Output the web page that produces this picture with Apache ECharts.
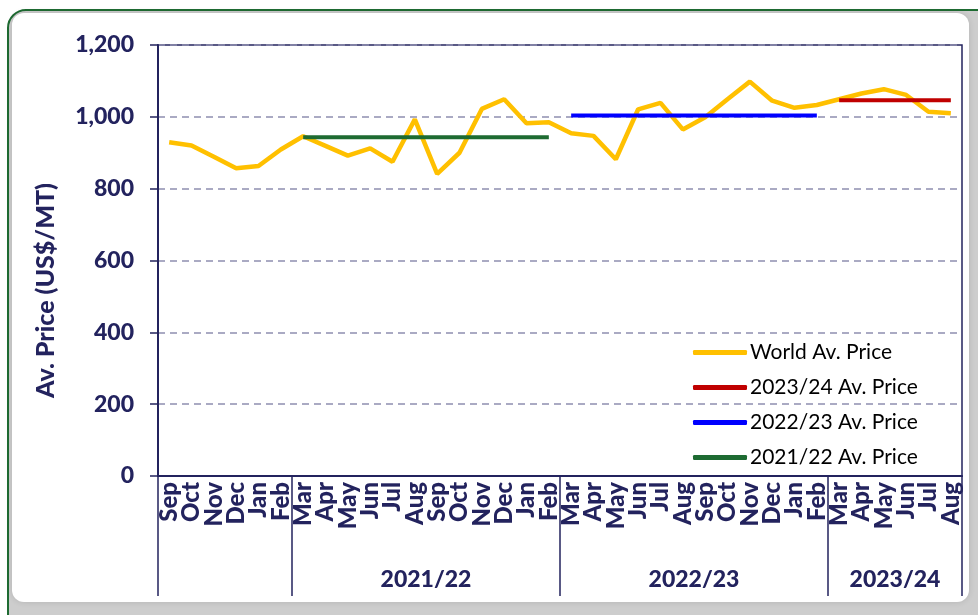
<!DOCTYPE html>
<html>
<head>
<meta charset="utf-8">
<script src="https://cdn.jsdelivr.net/npm/echarts@6/dist/echarts.min.js"></script>
<style>
  html, body { margin: 0; padding: 0; background: #fff; }
  #chart { width: 978px; height: 615px; }
</style>
</head>
<body>
<div id="chart"></div>
<script>
// months Sep 2020 .. Aug 2024
const months = [
  'Sep', 'Oct', 'Nov', 'Dec', 'Jan', 'Feb',
  'Mar', 'Apr', 'May', 'Jun', 'Jul', 'Aug', 'Sep', 'Oct', 'Nov', 'Dec', 'Jan', 'Feb',
  'Mar', 'Apr', 'May', 'Jun', 'Jul', 'Aug', 'Sep', 'Oct', 'Nov', 'Dec', 'Jan', 'Feb',
  'Mar', 'Apr', 'May', 'Jun', 'Jul', 'Aug'
];
const worldPrice = [
  929, 920, 889, 857, 863, 909,
  946, 919, 892, 912, 875, 993, 841, 900, 1022, 1049, 982, 985,
  954, 947, 882, 1021, 1039, 965, 999, 1049, 1098, 1045, 1025, 1033,
  1049, 1065, 1077, 1061, 1014, 1010
];
const seasonNames = ['2021/22', '2022/23', '2023/24'];
const seasonStart = [6, 18, 30];
const seasonEnd = [17, 29, 35];
const seasonAvg = [943, 1004, 1046];
const seasonColors = ['#1e6b32', '#0000ff', '#c00000'];
const yTicks = [0, 200, 400, 600, 800, 1000, 1200];

const navy = '#23235e';
const font = 'Lato';

function avgData(i) {
  return months.map((m, k) => (k >= seasonStart[i] && k <= seasonEnd[i]) ? seasonAvg[i] : null);
}

// group separators and label positions on a 0..36 value scale
const groupEdges = [0, seasonStart[0], seasonStart[1], seasonStart[2], months.length];
const groupCenters = seasonNames.map((n, i) => (seasonStart[i] + seasonEnd[i] + 1) / 2);

const chart = echarts.init(document.getElementById('chart'));

const avgSeries = [2, 1, 0].map(i => ({
  name: seasonNames[i] + ' Av. Price',
  type: 'line',
  data: avgData(i),
  symbol: 'none',
  lineStyle: { color: seasonColors[i], width: 4 },
  itemStyle: { color: seasonColors[i] },
  z: 3
}));

chart.setOption({
  animation: false,
  graphic: [
    {
      type: 'rect', z: -10, silent: true,
      shape: { x: 8, y: 10, width: 1000, height: 640, r: 18 },
      style: { fill: '#cdcdcd', stroke: '#1e6b32', lineWidth: 2 }
    },
    {
      type: 'rect', z: -9, silent: true,
      shape: { x: 12, y: 13, width: 957, height: 589, r: 12 },
      style: { fill: '#ffffff', shadowColor: 'rgba(0,0,0,0.12)', shadowBlur: 6 }
    }
  ],
  grid: {
    left: 158, top: 45, right: 16, bottom: 139,
    show: true, borderColor: navy, borderWidth: 1.5, backgroundColor: '#fff'
  },
  legend: {
    orient: 'vertical',
    left: 688, top: 337,
    icon: 'roundRect',
    itemWidth: 54, itemHeight: 5, itemGap: 14,
    textStyle: { color: '#000', fontFamily: font, fontSize: 21, padding: [0, 0, 0, -2] },
    data: ['World Av. Price', '2023/24 Av. Price', '2022/23 Av. Price', '2021/22 Av. Price']
  },
  xAxis: [
    {
      type: 'category',
      data: months,
      boundaryGap: true,
      axisLine: { lineStyle: { color: navy, width: 2 } },
      axisTick: { show: false },
      axisLabel: {
        rotate: 90, interval: 0, margin: 6,
        color: navy, fontFamily: font, fontWeight: 900, fontSize: 24
      }
    },
    {
      type: 'value',
      position: 'bottom',
      min: 0, max: months.length,
      axisLine: { show: false },
      splitLine: { show: false },
      axisTick: {
        show: true, length: 120,
        customValues: groupEdges,
        lineStyle: { color: navy, width: 1.5 }
      },
      axisLabel: {
        customValues: groupCenters,
        margin: 92,
        color: navy, fontFamily: font, fontWeight: 900, fontSize: 23,
        formatter: v => seasonNames[groupCenters.indexOf(v)] || ''
      }
    }
  ],
  yAxis: {
    type: 'value',
    min: yTicks[0], max: yTicks[yTicks.length - 1], interval: 200,
    name: 'Av. Price (US$/MT)',
    nameLocation: 'middle',
    nameGap: 100,
    nameTextStyle: {
      color: navy, fontFamily: font, fontWeight: 900, fontSize: 25,
      padding: [0, 60, 0, 0]
    },
    axisLine: { show: true, lineStyle: { color: navy, width: 2 } },
    axisTick: { show: true, length: 8, lineStyle: { color: navy, width: 1.5 } },
    axisLabel: {
      color: navy, fontFamily: font, fontWeight: 900, fontSize: 23, margin: 24,
      formatter: v => v.toLocaleString('en-US')
    },
    splitLine: { lineStyle: { color: '#8e8eb0', type: [7, 5], width: 1.5 } }
  },
  series: [
    {
      name: 'World Av. Price',
      type: 'line',
      data: worldPrice,
      symbol: 'none',
      lineStyle: { color: '#ffc000', width: 4.5 },
      itemStyle: { color: '#ffc000' },
      z: 2
    }
  ].concat(avgSeries)
});
</script>
</body>
</html>
